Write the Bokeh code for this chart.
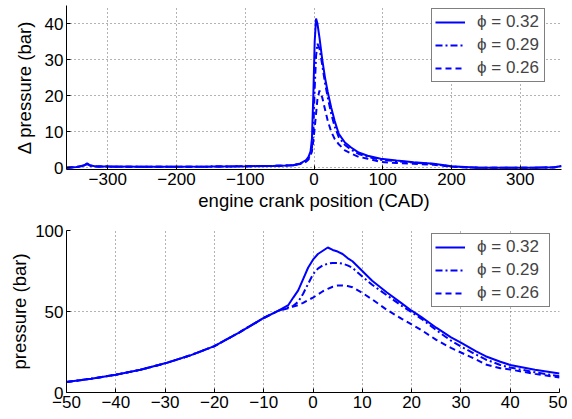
from bokeh.plotting import figure
from bokeh.layouts import column
from bokeh.models import FixedTicker, Range1d, CustomJSTickFormatter, Legend, LegendItem
from bokeh.embed import file_html
from bokeh.resources import INLINE

# ---------------- data: top panel (delta pressure vs CAD) ----------------
cad_top = [-360, -345, -335, -330, -325, -315, -300, -250, -200, -150, -100, -60, -40, -30,
           -20, -12, -8, -5, -3, -1, 1, 3, 5, 8, 12, 16, 20, 25, 30, 36, 45, 54, 65, 78,
           97, 120, 145, 174, 190, 200, 220, 240, 280, 320, 350, 360]
dp_032 = [0, 0.2, 0.6, 1.2, 0.6, 0.3, 0.3, 0.25, 0.25, 0.3, 0.4, 0.5, 0.6, 0.7,
          1.2, 2.0, 3.0, 4.5, 8, 20, 35, 41.4, 40, 36, 30, 25, 21, 16.7, 13, 9.4, 7, 5.6, 4.2, 3.3,
          2.5, 2.0, 1.5, 1.1, 0.7, 0.4, 0.2, 0, 0, 0, 0.1, 0.5]
dp_029 = [0, 0.2, 0.6, 1.0, 0.6, 0.3, 0.3, 0.25, 0.25, 0.3, 0.4, 0.5, 0.6, 0.7,
          1.1, 1.8, 2.6, 3.8, 5.5, 10, 22, 31, 34.4, 33, 28.5, 23.5, 19.5, 15, 11.5, 8.5, 6.3, 5, 3.8, 3.0,
          2.2, 1.8, 1.4, 1.0, 0.6, 0.3, 0.1, 0, 0, 0, 0.1, 0.4]
dp_026 = [0, 0.2, 0.5, 1.0, 0.5, 0.3, 0.3, 0.25, 0.25, 0.3, 0.4, 0.5, 0.6, 0.7,
          1.0, 1.6, 2.3, 3.3, 4.5, 7.5, 11, 15, 19, 21.4, 19.5, 16.2, 13, 10, 8, 6.5, 4.8, 3.9, 3.0, 2.5,
          1.6, 1.3, 1.1, 0.8, 0.5, 0.3, 0.1, 0, 0, 0, 0.1, 0.4]

# ---------------- data: bottom panel (pressure vs CAD) ----------------
cad_bot = [-50, -45, -40, -35, -30, -25, -20, -15, -10, -7, -5, -4, -3, -2, -1, 0, 1, 2, 3, 4,
           5, 6, 7, 8, 10, 12, 15, 18, 20, 22, 25, 28, 30, 33, 35, 38, 40, 45, 50]
p_032 = [6.5, 8.5, 11, 14, 18, 22.8, 28.6, 37, 46, 50.5, 54, 58.6, 63, 70, 77, 82, 85.5, 87.5, 89.5, 88,
         87, 85.5, 83, 81, 75, 69, 61.7, 55, 50.5, 46.5, 40, 34, 30.8, 25.5, 22.4, 19, 17, 14, 11.7]
p_029 = [6.5, 8.5, 11, 14, 18, 22.8, 28.6, 37, 46, 50.5, 52.5, 53.5, 56, 61, 67, 73, 76.5, 78.5, 79.5, 80,
         80, 79.5, 78.5, 77, 71.6, 66.5, 60, 53.5, 49.5, 45.5, 38.5, 32, 28.4, 23.5, 20.4, 17, 15.4, 12.5, 10]
p_026 = [6.5, 8.5, 11, 14, 18, 22.8, 28.6, 37, 46, 50.5, 52, 53, 54, 55.3, 57, 58.6, 60.5, 62.5, 64, 65.3,
         66, 66, 65.7, 65, 61.5, 57.5, 51, 45.5, 42, 38.5, 32.5, 27.5, 24.7, 20.5, 17.3, 15, 14.2, 11.5, 9.3]

labels = ["\u03d5 = 0.32", "\u03d5 = 0.29", "\u03d5 = 0.26"]
dashes = ["solid", "7 3 2 3", "6 4"]

top_xticks = [-300, -200, -100, 0, 100, 200, 300]
top_yticks = [0, 10, 20, 30, 40]
bot_xticks = [-50, -40, -30, -20, -10, 0, 10, 20, 30, 40, 50]
bot_yticks = [0, 50, 100]

FONT = "Liberation Sans"
BLUE = "#0000ff"
minus_fmt = "return tick < 0 ? '\\u2212' + Math.abs(tick) : String(tick);"


def style(p, xticks, yticks):
    p.outline_line_color = None
    for ax in (p.xaxis[0], p.yaxis[0]):
        ax.major_label_text_font = FONT
        ax.major_label_text_font_size = "17px"
        ax.major_label_text_color = "black"
        ax.axis_label_text_font = FONT
        ax.axis_label_text_font_size = "18.5px"
        ax.axis_label_text_font_style = "normal"
        ax.axis_label_text_color = "black"
        ax.axis_line_color = "black"
        ax.major_tick_in = 4
        ax.major_tick_out = 0
        ax.minor_tick_line_color = None
        ax.major_tick_line_color = "black"
        ax.major_label_standoff = 3
        ax.formatter = CustomJSTickFormatter(code=minus_fmt)
    p.xaxis[0].ticker = FixedTicker(ticks=xticks)
    p.yaxis[0].ticker = FixedTicker(ticks=yticks)
    for g in (p.xgrid[0], p.ygrid[0]):
        g.grid_line_color = "#666666"
        g.grid_line_dash = "1 3"
        g.grid_line_width = 1
    p.xgrid[0].ticker = FixedTicker(ticks=xticks)
    p.ygrid[0].ticker = FixedTicker(ticks=yticks)


def add_legend(p, renderers, loc, label_width):
    items = [LegendItem(label=l, renderers=[r]) for l, r in zip(labels, renderers)]
    leg = Legend(items=items, location=loc)
    leg.border_line_color = "black"
    leg.border_line_width = 1
    leg.background_fill_color = "white"
    leg.background_fill_alpha = 1
    leg.label_text_font = FONT
    leg.label_text_font_size = "17px"
    leg.label_height = 18
    leg.label_width = label_width
    leg.glyph_width = 30
    leg.glyph_height = 18
    leg.spacing = 3
    leg.padding = 3
    leg.label_standoff = 12
    leg.margin = 0
    p.add_layout(leg, "center")


# ---------------- top figure ----------------
p1 = figure(frame_width=495, frame_height=164, output_backend="svg", toolbar_location=None,
            x_range=Range1d(-360, 360), y_range=Range1d(-0.5, 45.0),
            min_border_left=66, min_border_right=6, min_border_top=5, min_border_bottom=43)
r = []
for y, d in zip([dp_032, dp_029, dp_026], dashes):
    r.append(p1.line(cad_top, y, line_color=BLUE, line_width=2, line_dash=d))
p1.xaxis.axis_label = "engine crank position (CAD)"
p1.yaxis.axis_label = "\u0394 pressure (bar)"
style(p1, top_xticks, top_yticks)
p1.xaxis[0].axis_label_standoff = 2
p1.yaxis[0].axis_label_standoff = 7
add_legend(p1, r, (365, 87), 64)

# ---------------- bottom figure ----------------
p2 = figure(frame_width=493, frame_height=162, output_backend="svg", toolbar_location=None,
            x_range=Range1d(-50, 50), y_range=Range1d(0, 100),
            min_border_left=66, min_border_right=8, min_border_top=17, min_border_bottom=22)
r2 = []
for y, d in zip([p_032, p_029, p_026], dashes):
    r2.append(p2.line(cad_bot, y, line_color=BLUE, line_width=2, line_dash=d))
p2.yaxis.axis_label = "pressure (bar)"
style(p2, bot_xticks, bot_yticks)
p2.yaxis[0].axis_label_standoff = 2
add_legend(p2, r2, (365, 85), 69)

layout = column(p1, p2, spacing=0)
open("out.html", "w").write(file_html(layout, INLINE))
